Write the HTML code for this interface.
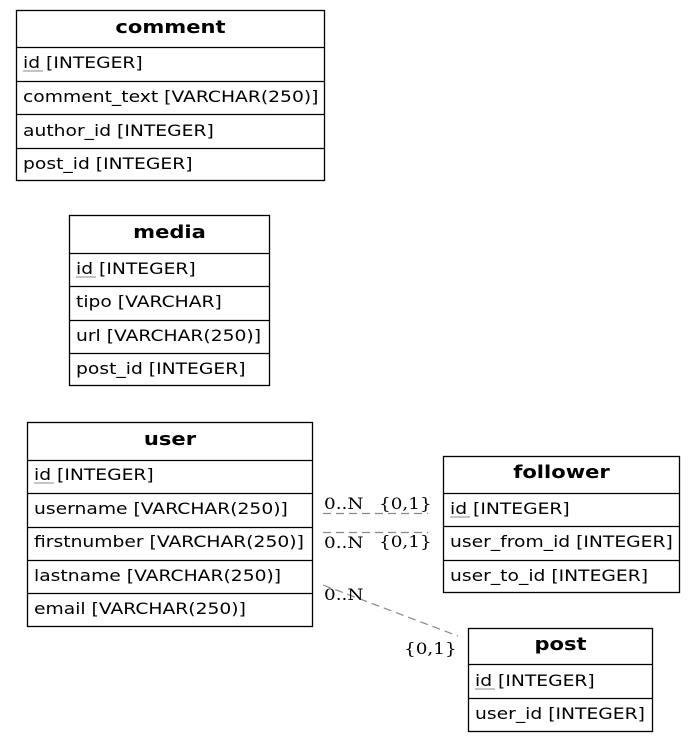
<!DOCTYPE html>
<html><head><meta charset="utf-8"><style>
html,body{margin:0;padding:0;background:#fff;}
svg{display:block;}
.t{font-family:"DejaVu Sans","Liberation Sans",sans-serif;font-size:16px;fill:#000;}
.h{font-family:"DejaVu Sans","Liberation Sans",sans-serif;font-size:18px;font-weight:bold;fill:#000;}
.l{font-family:"DejaVu Serif","Liberation Serif",serif;font-size:16px;fill:#000;}
</style></head><body>
<svg width="695" height="743" viewBox="0 0 695 743" xmlns="http://www.w3.org/2000/svg">
<g fill="none" stroke="#000" stroke-width="1.3">
<rect x="16.5" y="10.5" width="308" height="170"/>
<line x1="16" y1="47.5" x2="325" y2="47.5"/><line x1="16" y1="81.5" x2="325" y2="81.5"/><line x1="16" y1="114.5" x2="325" y2="114.5"/><line x1="16" y1="148.5" x2="325" y2="148.5"/>
<rect x="69.5" y="215.5" width="200" height="170"/>
<line x1="69" y1="253.5" x2="270" y2="253.5"/><line x1="69" y1="286.5" x2="270" y2="286.5"/><line x1="69" y1="320.5" x2="270" y2="320.5"/><line x1="69" y1="353.5" x2="270" y2="353.5"/>
<rect x="27.5" y="422.5" width="285" height="204"/>
<line x1="27" y1="460.5" x2="313" y2="460.5"/><line x1="27" y1="493.5" x2="313" y2="493.5"/><line x1="27" y1="527.5" x2="313" y2="527.5"/><line x1="27" y1="560.5" x2="313" y2="560.5"/><line x1="27" y1="593.5" x2="313" y2="593.5"/>
<rect x="443.5" y="456.5" width="236" height="136"/>
<line x1="443" y1="493.5" x2="680" y2="493.5"/><line x1="443" y1="526.5" x2="680" y2="526.5"/><line x1="443" y1="560.5" x2="680" y2="560.5"/>
<rect x="468.5" y="628.5" width="184" height="103"/>
<line x1="468" y1="664.5" x2="653" y2="664.5"/><line x1="468" y1="698.5" x2="653" y2="698.5"/>
</g>
<g stroke="#888" stroke-width="1.2" stroke-dasharray="8,5" fill="none">
<line x1="323" y1="513.5" x2="428" y2="513.5"/>
<line x1="323" y1="532.5" x2="428" y2="532.5"/>
<line x1="323" y1="585" x2="458" y2="636"/>
</g>
<g stroke="#888" stroke-width="1">
<line x1="23" y1="71" x2="43" y2="71"/>
<line x1="76" y1="277" x2="96" y2="277"/>
<line x1="34" y1="483" x2="54" y2="483"/>
<line x1="450" y1="517" x2="470" y2="517"/>
<line x1="475" y1="689" x2="495" y2="689"/>
</g>

<g transform="translate(170.5 0) scale(1.17 1)"><text class="h" x="0" y="33" text-anchor="middle">comment</text></g>
<g transform="translate(23 0) scale(1.17 1)">
<text class="t" x="0" y="68">id [INTEGER]</text>
<text class="t" x="0" y="102">comment_text [VARCHAR(250)]</text>
<text class="t" x="0" y="136">author_id [INTEGER]</text>
<text class="t" x="0" y="169">post_id [INTEGER]</text>
</g>

<g transform="translate(169.5 0) scale(1.17 1)"><text class="h" x="0" y="238" text-anchor="middle">media</text></g>
<g transform="translate(76 0) scale(1.17 1)">
<text class="t" x="0" y="274">id [INTEGER]</text>
<text class="t" x="0" y="307">tipo [VARCHAR]</text>
<text class="t" x="0" y="341">url [VARCHAR(250)]</text>
<text class="t" x="0" y="374">post_id [INTEGER]</text>
</g>

<g transform="translate(170 0) scale(1.17 1)"><text class="h" x="0" y="445" text-anchor="middle">user</text></g>
<g transform="translate(34 0) scale(1.17 1)">
<text class="t" x="0" y="480">id [INTEGER]</text>
<text class="t" x="0" y="514">username [VARCHAR(250)]</text>
<text class="t" x="0" y="547">firstnumber [VARCHAR(250)]</text>
<text class="t" x="0" y="581">lastname [VARCHAR(250)]</text>
<text class="t" x="0" y="614">email [VARCHAR(250)]</text>
</g>

<g transform="translate(561.5 0) scale(1.17 1)"><text class="h" x="0" y="478" text-anchor="middle">follower</text></g>
<g transform="translate(450 0) scale(1.17 1)">
<text class="t" x="0" y="514">id [INTEGER]</text>
<text class="t" x="0" y="547">user_from_id [INTEGER]</text>
<text class="t" x="0" y="581">user_to_id [INTEGER]</text>
</g>

<g transform="translate(560.5 0) scale(1.17 1)"><text class="h" x="0" y="650" text-anchor="middle">post</text></g>
<g transform="translate(475 0) scale(1.17 1)">
<text class="t" x="0" y="686">id [INTEGER]</text>
<text class="t" x="0" y="719">user_id [INTEGER]</text>
</g>

<g transform="translate(324 0) scale(1.15 1)">
<text class="l" x="0" y="509">0..N</text>
<text class="l" x="0" y="548">0..N</text>
<text class="l" x="0" y="600">0..N</text>
</g>
<g transform="translate(379 0) scale(1.15 1)">
<text class="l" x="0" y="509">{0,1}</text>
<text class="l" x="0" y="547">{0,1}</text>
</g>
<g transform="translate(404 0) scale(1.15 1)"><text class="l" x="0" y="654">{0,1}</text></g>
</svg>
</body></html>
